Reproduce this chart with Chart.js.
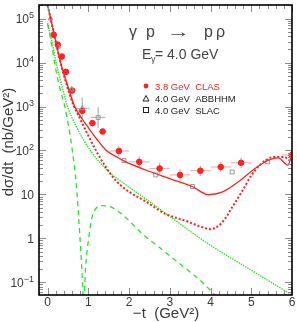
<!DOCTYPE html>
<html>
<head>
<meta charset="utf-8">
<script src="https://cdn.jsdelivr.net/npm/chart.js@4.4.0/dist/chart.umd.min.js"></script>
<style>
  html, body { margin: 0; padding: 0; background: #fff; }
  #wrap { width: 297px; height: 322px; }
</style>
</head>
<body>
<div id="wrap"><canvas id="chart" width="297" height="322"></canvas></div>
<script>
// -t in GeV^2, dsigma/dt in nb/GeV^2

// model curves
var solidRedT = [0, 0.073, 0.2, 0.317, 0.48, 0.665, 0.85, 1.0, 1.2, 1.44, 1.7, 1.92, 2.41, 2.98, 3.55, 3.95, 4.28, 4.69, 5.09, 5.42, 5.66, 5.9, 6.0];
var solidRedV = [2.0e5, 1e5, 30000, 10000, 3200, 1000, 520, 330, 185, 100, 71, 55, 36, 23.3, 15.2, 9.9, 11.3, 19.7, 39, 60, 68, 46.6, 85];

var dotRedT = [0, 0.073, 0.317, 0.6, 0.8, 1.0, 1.2, 1.4, 1.6, 1.8, 2.0, 2.4, 2.9, 3.4, 3.7, 4.0, 4.28, 4.52, 4.77, 5.01, 5.25, 5.58, 5.82, 5.94, 6.0];
var dotRedV = [2.0e5, 1e5, 1e4, 1300, 520, 215, 95, 46, 25, 16, 11.5, 7.0, 3.6, 2.5, 1.95, 1.63, 2.29, 4.95, 11.7, 27.8, 50.6, 71.5, 71, 60, 91];

var dotGreenT = [0, 0.1, 0.2, 0.3, 0.49, 0.7, 1.05, 1.5, 1.92, 2.49, 2.9, 3.95, 5.0, 6.0];
var dotGreenV = [8e4, 3.2e4, 1.1e4, 4500, 1000, 355, 100, 33, 16.6, 7.0, 3.7, 0.75, 0.19, 0.052];

var dashGreenAT = [0, 0.1, 0.2, 0.3, 0.42, 0.52, 0.6, 0.7, 0.79, 0.85, 0.875];
var dashGreenAV = [7.5e4, 2.5e4, 7000, 2600, 1000, 330, 110, 18, 1.2, 0.13, 0.04];

var dashGreenBT = [0.895, 0.93, 0.99, 1.11, 1.35, 1.6, 1.92, 2.33, 2.74, 3.14, 3.55, 3.87, 4.12];
var dashGreenBV = [0.04, 0.2, 0.75, 3.5, 5.6, 4.96, 2.96, 1.26, 0.63, 0.316, 0.159, 0.087, 0.05];

// measurements (errors: x half width in GeV^2, y half width in decades)
var clasT = [0.15, 0.25, 0.35, 0.45, 0.6, 0.85, 1.1, 1.35, 1.75, 2.25, 2.75, 3.25, 3.75, 4.25, 4.75, 6.0];
var clasV = [42900, 25500, 13700, 6150, 2310, 797, 420, 271, 97.5, 55.2, 39.1, 27.8, 34.7, 42.2, 52.5, 79];
var clasDx = [0.05, 0.05, 0.05, 0.05, 0.1, 0.1, 0.1, 0.1, 0.25, 0.25, 0.25, 0.25, 0.25, 0.25, 0.25, 0.25];
var clasDy = [0.03, 0.03, 0.03, 0.03, 0.05, 0.06, 0.06, 0.06, 0.12, 0.12, 0.13, 0.13, 0.12, 0.12, 0.12, 0.12];

var abbT = [0.07, 0.26, 0.59, 0.85];
var abbV = [1.0e5, 22800, 2430, 910];
var abbDx = [0.03, 0.05, 0.1, 0.18];
var abbDy = [0.04, 0.06, 0.08, 0.24];

var slacT = [1.24, 1.876, 2.655, 3.557, 4.531, 5.398];
var slacV = [564, 59, 27.8, 15.2, 32.4, 55.2];
var slacDx = [0.18, 0, 0, 0, 0, 0];
var slacDy = [0.24, 0, 0, 0, 0, 0];

var xTickLabels = ['0', '1', '2', '3', '4', '5', '6'];
var yDecades = [-1, 0, 1, 2, 3, 4, 5];

(function (Chart) {
    "use strict";

    var RED = '#ff2020',
        GREEN = '#30e030',
        TICK = '#8c8c8c',
        TEXT = '#3a3a3a',
        FONT = '"Liberation Sans", Arial, sans-serif';

    function pairs(ts, vs) {
        return ts.map(function (t, i) { return {x: t, y: vs[i]}; });
    }

    function curve(ts, vs, color, dash, width) {
        return {
            type: 'line',
            data: pairs(ts, vs),
            borderColor: color,
            borderWidth: width,
            borderDash: dash,
            pointRadius: 0,
            fill: false,
            cubicInterpolationMode: 'monotone',
            clip: 0
        };
    }

    function markers(ts, vs, style, radius, fillColor, lineColor) {
        return {
            type: 'scatter',
            data: pairs(ts, vs),
            pointStyle: style,
            pointRadius: radius,
            backgroundColor: fillColor,
            borderColor: lineColor,
            borderWidth: 1,
            showLine: false,
            clip: 0
        };
    }

    function strokeLine(ctx, x1, y1, x2, y2) {
        ctx.beginPath();
        ctx.moveTo(x1, y1);
        ctx.lineTo(x2, y2);
        ctx.stroke();
    }

    function drawErrors(chart, ts, vs, dxs, dys, hColor, vColor) {
        var ctx = chart.ctx, xs = chart.scales.x, ys = chart.scales.y;
        ctx.lineWidth = 1.2;
        ts.forEach(function (t, i) {
            var px = xs.getPixelForValue(t), py = ys.getPixelForValue(vs[i]);
            if (dxs[i] > 0) {
                ctx.strokeStyle = hColor;
                strokeLine(ctx, xs.getPixelForValue(t - dxs[i]), py, xs.getPixelForValue(t + dxs[i]), py);
            }
            if (dys[i] > 0) {
                ctx.strokeStyle = vColor;
                strokeLine(ctx, px, ys.getPixelForValue(vs[i] * Math.pow(10, dys[i])),
                           px, ys.getPixelForValue(vs[i] / Math.pow(10, dys[i])));
            }
        });
    }

    var errorBars = {
        id: 'errorBars',
        beforeDatasetsDraw: function (chart) {
            var ctx = chart.ctx, a = chart.chartArea;
            ctx.save();
            ctx.beginPath();
            ctx.rect(a.left, a.top, a.right - a.left, a.bottom - a.top);
            ctx.clip();
            drawErrors(chart, slacT, slacV, slacDx, slacDy, '#b4b4b4', '#b4b4b4');
            drawErrors(chart, abbT, abbV, abbDx, abbDy, '#b4b4b4', '#b4b4b4');
            drawErrors(chart, clasT, clasV, clasDx, clasDy, '#f7b0b0', '#e8a8a8');
            ctx.restore();
        }
    };

    function drawPower(ctx, e, right, py) {
        var base = e === 0 ? '1' : '10',
            sup = (e === 0 || e === 1) ? '' : (e < 0 ? '\u2212' + (-e) : String(e)),
            wb, ws;
        ctx.font = '12px ' + FONT;
        wb = ctx.measureText(base).width;
        ctx.font = '9px ' + FONT;
        ws = sup ? ctx.measureText(sup).width : 0;
        ctx.textAlign = 'left';
        ctx.textBaseline = 'alphabetic';
        ctx.font = '12px ' + FONT;
        ctx.fillText(base, right - wb - ws, py + 4.5);
        if (sup) {
            ctx.font = '9px ' + FONT;
            ctx.fillText(sup, right - ws, py - 0.5);
        }
    }

    var frame = {
        id: 'frame',
        afterDraw: function (chart) {
            var ctx = chart.ctx, a = chart.chartArea,
                xs = chart.scales.x, ys = chart.scales.y,
                i, e, m, v, p, len;

            ctx.save();

            // ticks on all four sides, pointing inwards
            ctx.strokeStyle = TICK;
            ctx.lineWidth = 1;
            for (i = -1; i <= 30; i++) {
                v = i * 0.2;
                if (v < xs.min || v > xs.max) continue;
                p = Math.round(xs.getPixelForValue(v)) + 0.5;
                len = (i % 5 === 0) ? 7 : 4;
                strokeLine(ctx, p, a.bottom, p, a.bottom - len);
                strokeLine(ctx, p, a.top, p, a.top + len);
            }
            for (e = -2; e <= 5; e++) {
                for (m = 1; m <= 9; m++) {
                    v = m * Math.pow(10, e);
                    if (v < ys.min || v > ys.max) continue;
                    p = Math.round(ys.getPixelForValue(v)) + 0.5;
                    len = m === 1 ? 7 : 4;
                    strokeLine(ctx, a.left, p, a.left + len, p);
                    strokeLine(ctx, a.right, p, a.right - len, p);
                }
            }

            // frame
            ctx.strokeStyle = '#000';
            ctx.lineWidth = 1.6;
            ctx.strokeRect(a.left, a.top, a.right - a.left, a.bottom - a.top);

            // tick labels
            ctx.fillStyle = TEXT;
            ctx.font = '12px ' + FONT;
            ctx.textAlign = 'center';
            ctx.textBaseline = 'middle';
            xTickLabels.forEach(function (lab) {
                ctx.fillText(lab, xs.getPixelForValue(Number(lab)), 302.5);
            });
            yDecades.forEach(function (d) {
                drawPower(ctx, d, 34, ys.getPixelForValue(Math.pow(10, d)));
            });

            // axis titles
            ctx.font = '15px ' + FONT;
            ctx.textAlign = 'center';
            ctx.textBaseline = 'middle';
            ctx.fillText('\u2212t  (GeV\u00b2)', 166, 314);
            ctx.save();
            ctx.translate(9, 142);
            ctx.rotate(-Math.PI / 2);
            ctx.fillText('d\u03c3/dt  (nb/GeV\u00b2)', 0, 0);
            ctx.restore();

            // reaction and beam energy
            ctx.fillStyle = '#444';
            ctx.textAlign = 'left';
            ctx.textBaseline = 'alphabetic';
            ctx.font = '16px ' + FONT;
            ctx.fillText('\u03b3', 129, 37);
            ctx.fillText('p', 146, 37);
            ctx.fillText('p', 204, 37);
            ctx.fillText('\u03c1', 216, 37);
            ctx.save();
            ctx.translate(167, 37);
            ctx.scale(1.45, 1);
            ctx.fillText('\u2192', 0, 0);
            ctx.restore();
            ctx.font = '14px ' + FONT;
            ctx.fillText('E', 142, 59);
            ctx.font = '9px ' + FONT;
            ctx.fillText('\u03b3', 151, 62);
            ctx.font = '14px ' + FONT;
            ctx.fillText('= 4.0 GeV', 155, 59);

            // legend
            ctx.font = '9.5px ' + FONT;
            ctx.fillStyle = RED;
            ctx.beginPath();
            ctx.arc(146, 86, 2.4, 0, Math.PI * 2);
            ctx.fill();
            ctx.fillText('3.8 GeV  CLAS', 155, 89.5);
            ctx.fillStyle = '#222';
            ctx.strokeStyle = '#222';
            ctx.lineWidth = 1;
            ctx.beginPath();
            ctx.moveTo(146, 95.5);
            ctx.lineTo(149, 101);
            ctx.lineTo(143, 101);
            ctx.closePath();
            ctx.stroke();
            ctx.fillText('4.0 GeV  ABBHHM', 155, 101.5);
            ctx.strokeRect(143.5, 107.5, 5, 5);
            ctx.fillText('4.0 GeV  SLAC', 155, 113.5);

            ctx.restore();
        }
    };

    new Chart(document.getElementById('chart'), {
        data: {
            datasets: [
                curve(solidRedT, solidRedV, RED, [], 1.3),
                curve(dotRedT, dotRedV, RED, [2, 2], 2),
                curve(dotGreenT, dotGreenV, GREEN, [1.5, 1], 1.3),
                curve(dashGreenAT, dashGreenAV, GREEN, [5, 4], 1.3),
                curve(dashGreenBT, dashGreenBV, GREEN, [5, 4], 1.3),
                markers(slacT, slacV, 'rect', 2.8, 'rgba(255,255,255,0)', '#999'),
                markers(abbT, abbV, 'triangle', 2.8, 'rgba(255,255,255,0)', '#999'),
                markers(clasT, clasV, 'circle', 2.8, RED, RED)
            ]
        },
        options: {
            responsive: false,
            animation: false,
            devicePixelRatio: 1,
            events: [],
            layout: {padding: {left: 39, right: 3, top: 1, bottom: 27}},
            plugins: {legend: {display: false}, tooltip: {enabled: false}},
            scales: {
                x: {type: 'linear', min: -0.212, max: 6, display: false},
                y: {type: 'logarithmic', min: 0.0519, max: 2.03e5, display: false}
            }
        },
        plugins: [errorBars, frame]
    });
})(Chart);
</script>
</body>
</html>
